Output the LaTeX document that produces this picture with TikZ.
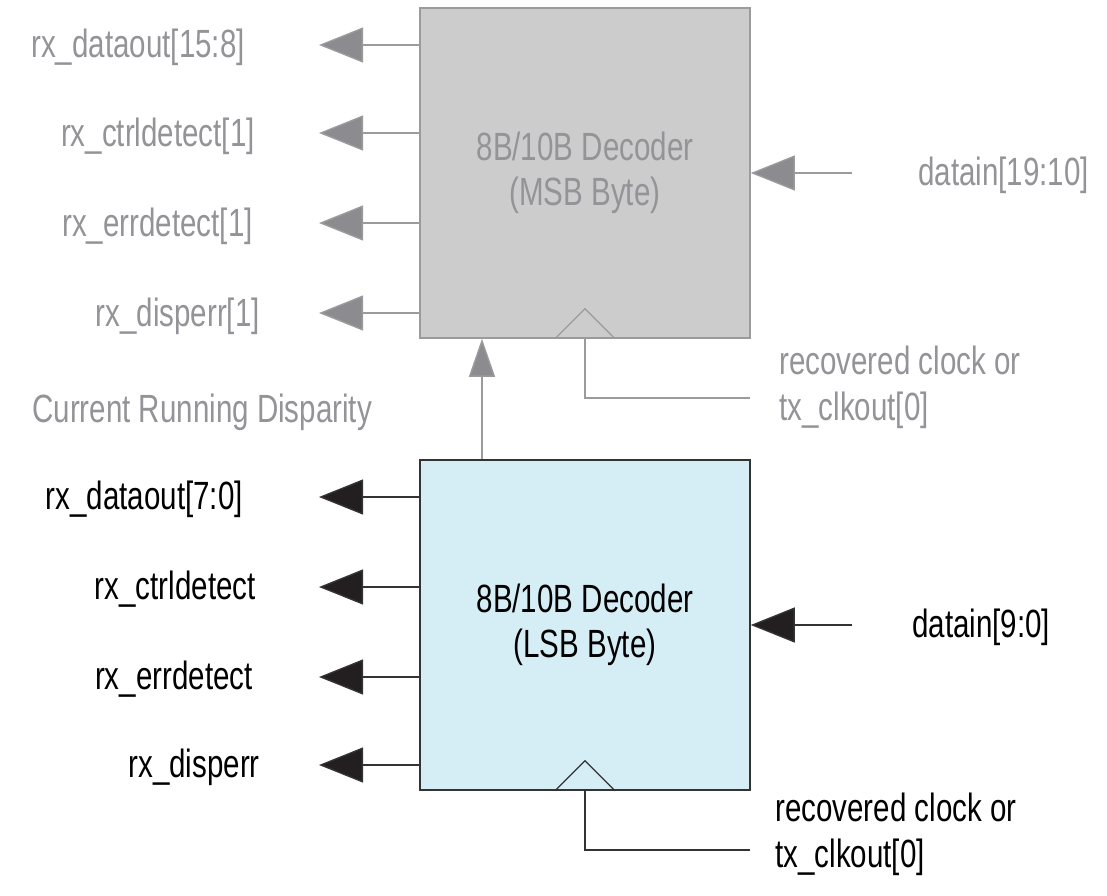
\documentclass[tikz,border=0pt]{standalone}
\usepackage{fontspec}
\setmainfont[FakeStretch=0.75]{Liberation Sans}
\usetikzlibrary{arrows.meta,positioning}
\definecolor{msbfill}{HTML}{CCCCCC}
\definecolor{msbline}{HTML}{9B9B9B}
\definecolor{msbtext}{HTML}{939398}
\definecolor{msbtip}{HTML}{8C8C90}
\definecolor{lsbfill}{HTML}{D5EDF5}
\definecolor{lsbline}{HTML}{333333}
\definecolor{lsbtip}{HTML}{231F20}
\tikzset{
  decbox/.style={rectangle, draw, line width=1pt, minimum width=8.25cm, minimum height=8.25cm, inner sep=0pt, align=center, font=\fontsize{28}{32}\selectfont},
  graywire/.style={draw=msbline, line width=1pt, -{Triangle[length=1.1cm,width=0.875cm,fill=msbtip]}},
  blackwire/.style={draw=lsbline, line width=1pt, -{Triangle[length=1.1cm,width=0.875cm,fill=lsbtip]}},
  sig/.style={inner sep=0pt},
  twoline/.style={sig, anchor=west, align=left, font=\fontsize{28}{32.7}\selectfont}
}

\begin{document}
\begin{tikzpicture}[x=0.025cm, y=-0.025cm, font=\fontsize{28}{32}\selectfont]
  \useasboundingbox (0,0) rectangle (1107,896);

  % Boxes
  \node[decbox, draw=msbline, fill=msbfill, text=msbtext] (msb) at (585,173) {8B/10B Decoder\\(MSB Byte)};
  \node[decbox, draw=lsbline, fill=lsbfill] (lsb) at (585,625) {8B/10B Decoder\\(LSB Byte)};

  % MSB outputs
  \coordinate (mo1) at (319,45);
  \coordinate (mo2) at (319,133);
  \coordinate (mo3) at (319,223);
  \coordinate (mo4) at (319,313);
  \draw[graywire] (msb.west |- mo1) -- (mo1);
  \draw[graywire] (msb.west |- mo2) -- (mo2);
  \draw[graywire] (msb.west |- mo3) -- (mo3);
  \draw[graywire] (msb.west |- mo4) -- (mo4);
  \node[sig, text=msbtext, anchor=east] (lmo1) at (245,47) {rx\_dataout[15:8]};
  \node[sig, text=msbtext, anchor=east] (lmo2) at (255,136) {rx\_ctrldetect[1]};
  \node[sig, text=msbtext, anchor=east] (lmo3) at (253,226) {rx\_errdetect[1]};
  \node[sig, text=msbtext, anchor=east] (lmo4) at (260,316) {rx\_disperr[1]};

  % MSB input
  \coordinate (mi) at (852,173);
  \draw[graywire] (mi) -- (msb.east |- mi);
  \node[sig, text=msbtext, anchor=west] (lmi) at (918,175) {datain[19:10]};

  % MSB clock
  \draw[draw=msbline, line width=0.8pt] ([xshift=-0.75cm]msb.south) -- ++(30,-30) -- ([xshift=0.75cm]msb.south);
  \coordinate (mclk) at (750,398);
  \draw[draw=msbline, line width=1pt] (msb.south) |- (mclk);
  \node[twoline, text=msbtext] (lmclk) at (779,387) {recovered clock or\\tx\_clkout[0]};

  % Running disparity
  \node[sig, text=msbtext, anchor=west] (rd) at (32,412) {Current Running Disparity};
  \draw[draw=msbline, line width=1pt, -{Triangle[length=0.95cm,width=0.65cm,fill=msbtip]}] ([xshift=-2.575cm]lsb.north) -- ([xshift=-2.575cm]msb.south);

  % LSB outputs
  \coordinate (lo1) at (319,497);
  \coordinate (lo2) at (319,587);
  \coordinate (lo3) at (319,677);
  \coordinate (lo4) at (319,765);
  \draw[blackwire] (lsb.west |- lo1) -- (lo1);
  \draw[blackwire] (lsb.west |- lo2) -- (lo2);
  \draw[blackwire] (lsb.west |- lo3) -- (lo3);
  \draw[blackwire] (lsb.west |- lo4) -- (lo4);
  \node[sig, anchor=east] (llo1) at (243,499) {rx\_dataout[7:0]};
  \node[sig, anchor=east] (llo2) at (256,589) {rx\_ctrldetect};
  \node[sig, anchor=east] (llo3) at (253,679) {rx\_errdetect};
  \node[sig, anchor=east] (llo4) at (260,767) {rx\_disperr};

  % LSB input
  \coordinate (li) at (852,625);
  \draw[blackwire] (li) -- (lsb.east |- li);
  \node[sig, anchor=west] (lli) at (912,627) {datain[9:0]};

  % LSB clock
  \draw[draw=lsbline, line width=0.8pt] ([xshift=-0.75cm]lsb.south) -- ++(30,-30) -- ([xshift=0.75cm]lsb.south);
  \coordinate (lclk) at (750,850);
  \draw[draw=lsbline, line width=1pt] (lsb.south) |- (lclk);
  \node[twoline] (llclk) at (775,834) {recovered clock or\\tx\_clkout[0]};
\end{tikzpicture}
\end{document}
